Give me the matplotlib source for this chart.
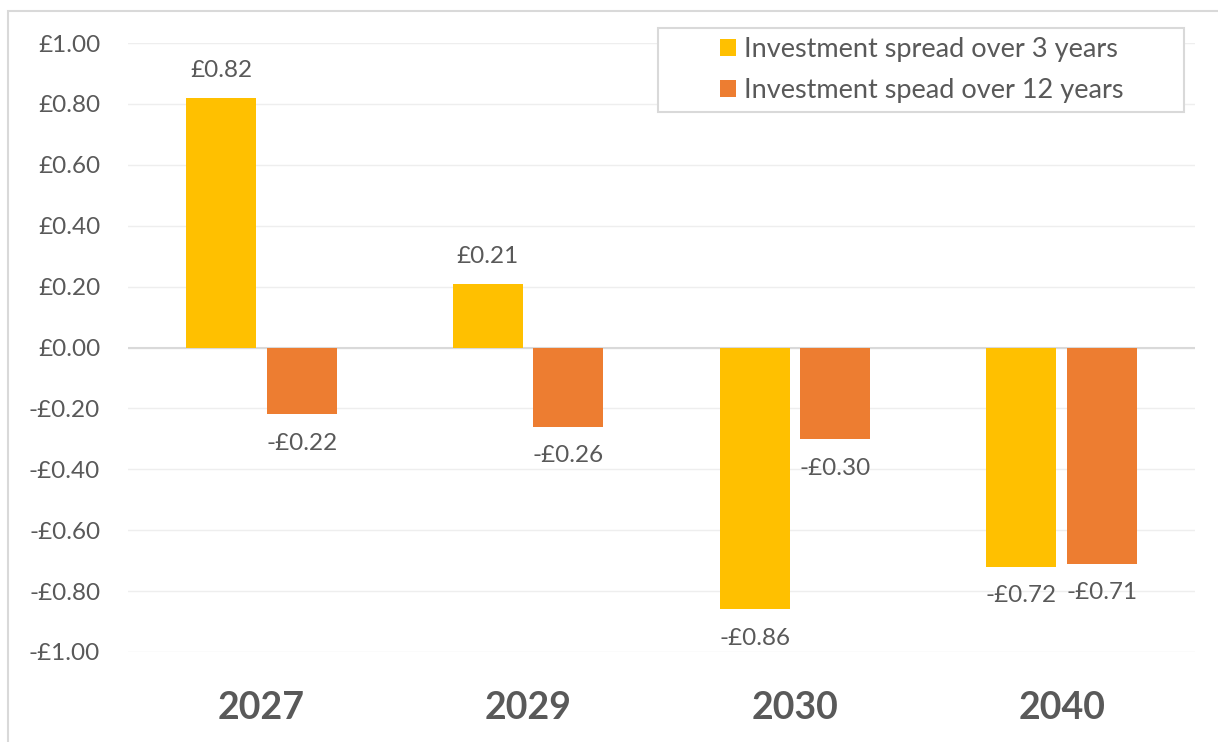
import matplotlib
matplotlib.use("Agg")
import matplotlib.pyplot as plt
from matplotlib.patches import Rectangle
import numpy as np

categories = ["2027", "2029", "2030", "2040"]
series_names = ["Investment spread over 3 years", "Investment spead over 12 years"]
spread_3y = [0.82, 0.21, -0.86, -0.72]
spread_12y = [-0.22, -0.26, -0.30, -0.71]
y_ticks = [-1.0, -0.8, -0.6, -0.4, -0.2, 0.0, 0.2, 0.4, 0.6, 0.8, 1.0]

colors = ["#FFC000", "#ED7D31"]
text_color = "#595959"

plt.rcParams['font.family'] = ['Lato', 'DejaVu Sans']

W, H = 1218, 742
fig = plt.figure(figsize=(W / 100, H / 100), dpi=100)

def fx(px):
    return px / W

def fy(py):
    return 1 - py / H

# outer chart frame
fig.patches.append(Rectangle((fx(8), fy(800)), fx(1300), fy(11) - fy(800),
                             transform=fig.transFigure, fill=False,
                             edgecolor="#D9D9D9", linewidth=1.5, zorder=0))

ax = fig.add_axes([fx(128), fy(652), fx(1195) - fx(128), fy(43) - fy(652)])
ax.set_xlim(-0.5, len(categories) - 0.5)
ax.set_ylim(-1.0, 1.0)

x = np.arange(len(categories))
width = 0.262
off = 0.151
bars1 = ax.bar(x - off, spread_3y, width, color=colors[0], label=series_names[0], zorder=3)
bars2 = ax.bar(x + off, spread_12y, width, color=colors[1], label=series_names[1], zorder=3)

def fmt(v):
    return ("-£%.2f" % abs(v)) if v < 0 else ("£%.2f" % v)

for bars, vals in ((bars1, spread_3y), (bars2, spread_12y)):
    for b, v in zip(bars, vals):
        cx = b.get_x() + b.get_width() / 2
        dy = 19.5 if v >= 0 else -21
        ax.annotate(fmt(v), (cx, v), xytext=(0, dy), textcoords="offset points",
                    ha="center", va="center", fontsize=17.5, color=text_color,
                    annotation_clip=False)

ax.set_yticks(y_ticks)
ax.set_yticklabels([fmt(t) if abs(t) > 1e-9 else "£0.00" for t in y_ticks])
ax.tick_params(axis="y", length=0, pad=20, labelsize=17.5, labelcolor=text_color)
ax.set_xticks(x)
ax.set_xticklabels(categories, fontweight="bold")
ax.tick_params(axis="x", length=0, pad=28, labelsize=27, labelcolor=text_color)

ax.grid(axis="y", color="#EEEEEE", linewidth=1.0, zorder=0)
ax.set_axisbelow(True)
ax.axhline(0, color="#D9D9D9", linewidth=1.5, zorder=2)
for s in ax.spines.values():
    s.set_visible(False)

# legend box
fig.patches.append(Rectangle((fx(658), fy(112)), fx(1184) - fx(658), fy(28) - fy(112),
                             transform=fig.transFigure, facecolor="white",
                             edgecolor="#D9D9D9", linewidth=1.5, zorder=5))
leg = fig.legend(handles=[bars1, bars2], labels=series_names,
                 loc="center", bbox_to_anchor=(fx(922), fy(70)),
                 frameon=False, fontsize=19.5, handlelength=0.6, handleheight=0.6,
                 handletextpad=0.3, labelspacing=0.6, labelcolor=text_color)
leg.set_zorder(6)

fig.savefig("out.png", dpi=100)
